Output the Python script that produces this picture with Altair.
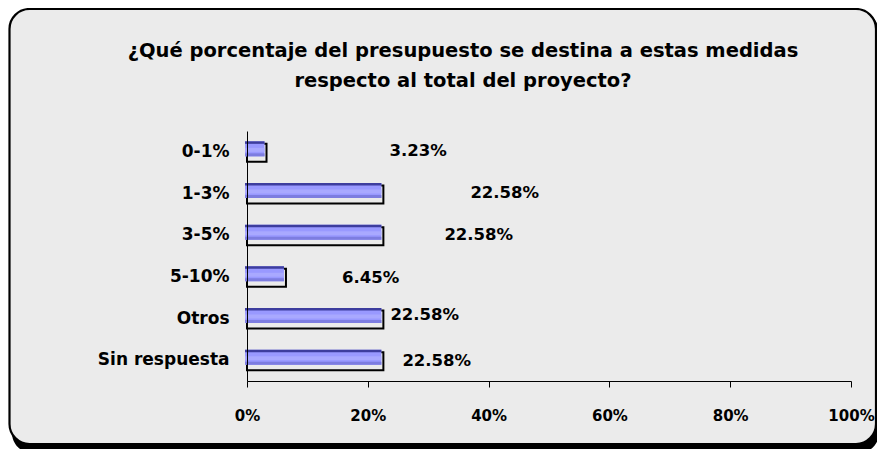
import altair as alt
import pandas as pd

# ---- data ----
categories = ["0-1%", "1-3%", "3-5%", "5-10%", "Otros", "Sin respuesta"]
values = [3.23, 22.58, 22.58, 6.45, 22.58, 22.58]
labels = ["3.23%", "22.58%", "22.58%", "6.45%", "22.58%", "22.58%"]
tick_values = [0, 20, 40, 60, 80, 100]
title_lines = [
    "¿Qué porcentaje del presupuesto se destina a estas medidas",
    "respecto al total del proyecto?",
]

# manual placement of the data labels (pixel nudges, as in the source chart)
label_dx = [123, 87, 61, 56, 7, 19]
label_dy = [-1, -1, 0, 1, -4, 1]

df = pd.DataFrame({"cat": categories, "value": values, "label": labels})
frame_df = pd.DataFrame({"k": [0]})
title_df = pd.DataFrame({"t": ["\n".join(title_lines)]})

W, H = 604, 250
FONT = "DejaVu Sans"
BG = "#ebebeb"

x_scale = alt.Scale(domain=[0, 100], nice=False, zero=True)
y_scale = alt.Scale(domain=categories, paddingInner=0, paddingOuter=0)

x_axis = alt.Axis(
    values=tick_values, labelExpr="datum.value + '%'", title=None, grid=False,
    domainColor="black", domainWidth=1, tickColor="black", tickSize=6, tickWidth=1,
    labelFont=FONT, labelFontSize=15, labelFontWeight="bold", labelColor="black",
    labelPadding=21, labelFlush=False, labelAlign="center", zindex=1,
)
y_axis = alt.Axis(
    title=None, grid=False, ticks=False, domainColor="black", domainWidth=1,
    labelFont=FONT, labelFontSize=17, labelFontWeight="bold", labelColor="black",
    labelPadding=18, zindex=1,
)

X = alt.X("value:Q", scale=x_scale, axis=x_axis)
Y = alt.Y("cat:N", scale=y_scale, axis=y_axis, sort=categories)

# decorative rounded frame with shadow
shadow = alt.Chart(frame_df).mark_rect(color="black", cornerRadius=20).encode(
    x=alt.value(-235), x2=alt.value(632), y=alt.value(-119), y2=alt.value(322)
)
frame = alt.Chart(frame_df).mark_rect(
    fill=BG, stroke="black", strokeWidth=2.2, cornerRadius=20
).encode(
    x=alt.value(-237.5), x2=alt.value(629), y=alt.value(-122), y2=alt.value(313)
)

# chart title as a two-line text
title = alt.Chart(title_df).mark_text(
    align="center", baseline="alphabetic", lineBreak="\n", lineHeight=30,
    font=FONT, fontSize=19.5, fontWeight="bold", color="black",
).encode(x=alt.value(216), y=alt.value(-74), text="t:N")

base = alt.Chart(df)
outline = base.mark_bar(
    height=18, yOffset=1, fillOpacity=0, stroke="black", strokeWidth=2
).encode(x=X, y=Y)
face = base.mark_bar(
    height=15, yOffset=-3, xOffset=-2, x2Offset=-2, color="#9999ff"
).encode(x=X, y=Y)
face_light = base.mark_bar(
    height=4, yOffset=-2, xOffset=-2, x2Offset=-2, color="#a9a9ff"
).encode(x=X, y=Y)
face_bottom = base.mark_bar(
    height=3, yOffset=3, xOffset=-2, x2Offset=-2, color="#7d7de0"
).encode(x=X, y=Y)
face_top = base.mark_bar(
    height=2.5, yOffset=-9.25, xOffset=-2, x2Offset=-2, color="#3d3d9e"
).encode(x=X, y=Y)

text_layers = []
for i, c in enumerate(categories):
    text_layers.append(
        base.transform_filter(alt.datum.cat == c)
        .mark_text(
            align="left", baseline="middle", dx=label_dx[i], dy=label_dy[i],
            font=FONT, fontSize=16.5, fontWeight="bold", color="black",
        )
        .encode(x=X, y=Y, text="label:N")
    )

chart = (
    alt.layer(shadow, frame, title, outline, face, face_light, face_bottom,
              face_top, *text_layers)
    .properties(
        width=W,
        height=H,
        autosize=alt.AutoSizeParams(type="none"),
        padding={"left": 239, "top": 123, "right": 26, "bottom": 68},
        background="white",
    )
    .configure_view(stroke=None)
)

chart.save("out.html", embed_options={"renderer": "svg", "actions": False})
